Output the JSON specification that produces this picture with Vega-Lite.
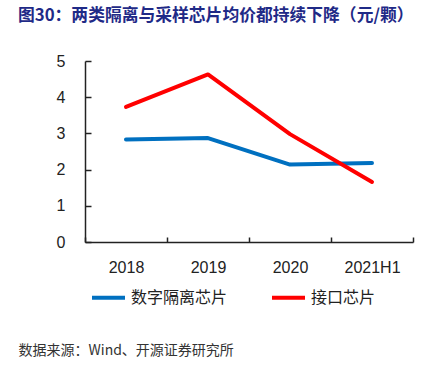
{
  "$schema": "https://vega.github.io/schema/vega-lite/v6.json",
  "width": 328,
  "height": 181,
  "autosize": {"type": "none"},
  "padding": {"left": 85, "top": 61, "right": 33, "bottom": 125},
  "background": "white",
  "title": {
    "text": "图30：两类隔离与采样芯片均价都持续下降（元/颗）",
    "anchor": "start",
    "frame": "group",
    "dx": -67,
    "offset": 28,
    "font": "Noto Sans CJK SC",
    "fontSize": 16.8,
    "fontWeight": "bold",
    "color": "#1F2A87"
  },
  "data": {
    "values": [
      {"year": "2018", "series": "数字隔离芯片", "price": 2.83},
      {"year": "2019", "series": "数字隔离芯片", "price": 2.87},
      {"year": "2020", "series": "数字隔离芯片", "price": 2.14},
      {"year": "2021H1", "series": "数字隔离芯片", "price": 2.18},
      {"year": "2018", "series": "接口芯片", "price": 3.73},
      {"year": "2019", "series": "接口芯片", "price": 4.63},
      {"year": "2020", "series": "接口芯片", "price": 2.98},
      {"year": "2021H1", "series": "接口芯片", "price": 1.66}
    ]
  },
  "mark": {"type": "line", "strokeWidth": 4, "strokeCap": "round", "strokeJoin": "round"},
  "encoding": {
    "x": {
      "field": "year",
      "type": "ordinal",
      "sort": ["2018", "2019", "2020", "2021H1"],
      "scale": {"type": "band", "paddingInner": 0, "paddingOuter": 0},
      "axis": {
        "title": "数据来源：Wind、开源证券研究所",
        "titleX": -67,
        "titleY": 108,
        "titleAlign": "left",
        "titleAnchor": null,
        "titleBaseline": "middle",
        "titleFont": "Noto Sans CJK SC",
        "titleFontSize": 14,
        "titleFontWeight": "normal",
        "titleColor": "#333333",
        "labelAngle": 0,
        "labelFont": "Liberation Sans",
        "labelFontSize": 16,
        "labelColor": "#222222",
        "labelPadding": 22,
        "tickBand": "extent",
        "tickSize": -5,
        "tickColor": "#222222",
        "tickWidth": 1.5,
        "domainColor": "#222222",
        "domainWidth": 1.5,
        "grid": false
      }
    },
    "y": {
      "field": "price",
      "type": "quantitative",
      "scale": {"domain": [0, 5], "nice": false, "zero": true},
      "axis": {
        "title": null,
        "values": [0, 1, 2, 3, 4, 5],
        "labelFont": "Liberation Sans",
        "labelFontSize": 16,
        "labelColor": "#222222",
        "labelPadding": 26,
        "tickSize": -6,
        "tickColor": "#222222",
        "tickWidth": 1.5,
        "domainColor": "#222222",
        "domainWidth": 1.5,
        "grid": false
      }
    },
    "color": {
      "field": "series",
      "type": "nominal",
      "sort": ["数字隔离芯片", "接口芯片"],
      "scale": {"domain": ["数字隔离芯片", "接口芯片"], "range": ["#0070C0", "#FF0000"]},
      "legend": {
        "title": null,
        "orient": "none",
        "legendX": 5,
        "legendY": 218,
        "direction": "horizontal",
        "symbolType": "stroke",
        "symbolStrokeWidth": 4,
        "symbolSize": 1089,
        "labelFont": "Noto Sans CJK SC",
        "labelFontSize": 16,
        "labelColor": "#222222",
        "labelOffset": 4,
        "columnPadding": 36
      }
    }
  },
  "config": {"view": {"stroke": null}}
}
